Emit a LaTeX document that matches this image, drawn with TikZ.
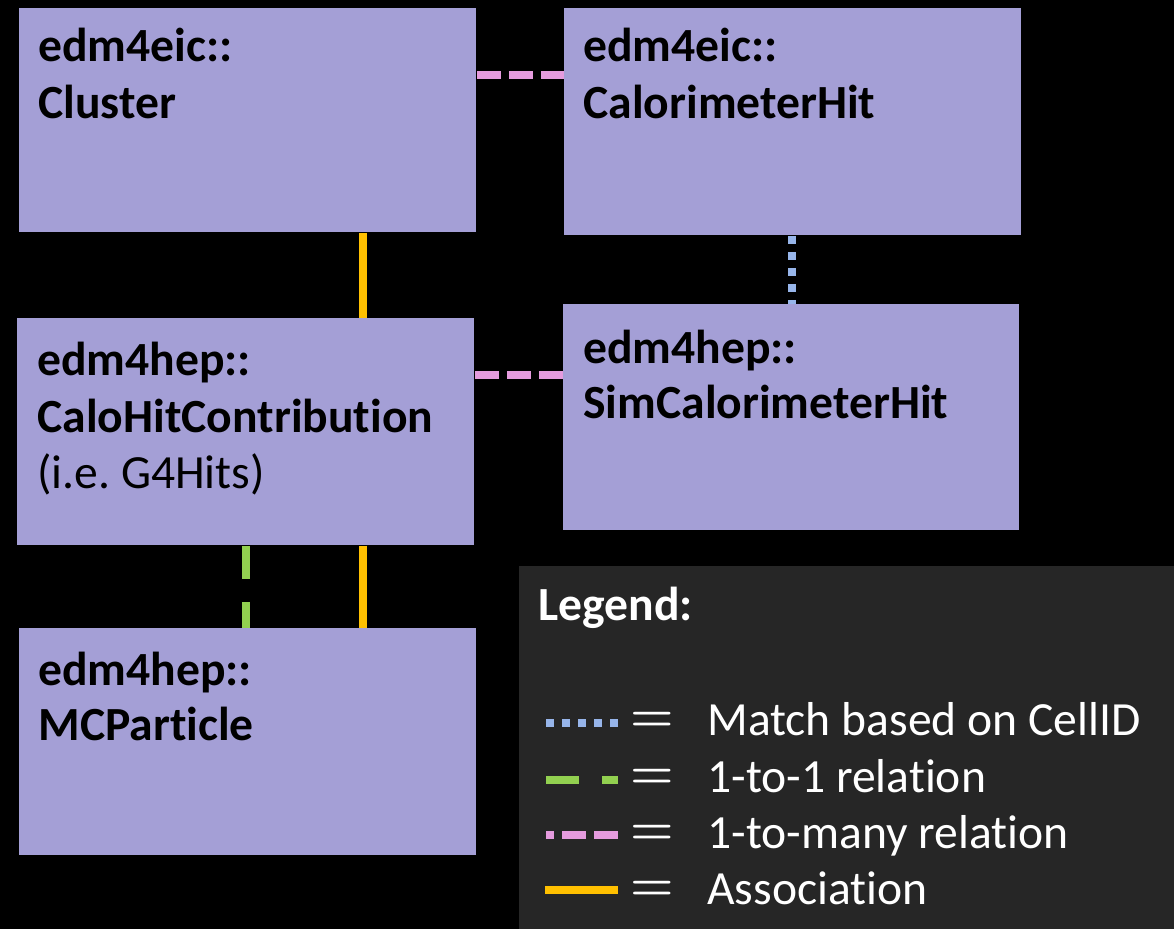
\documentclass[tikz,border=0pt]{standalone}
\usepackage{fontspec}
\setmainfont{Carlito}[Ligatures=NoCommon]
\definecolor{boxfill}{HTML}{A49FD6}
\definecolor{legendbg}{HTML}{262626}
\definecolor{relpink}{HTML}{E59BDE}
\definecolor{cellblue}{HTML}{97B5EA}
\definecolor{onegreen}{HTML}{92D050}
\definecolor{assocgold}{HTML}{FFC000}
\tikzset{
  box/.style={fill=boxfill, draw=none, anchor=north west, inner sep=0pt},
  boxtext/.style={anchor=base west, inner sep=0pt, font=\fontsize{23.8}{28.5}\selectfont, text=black},
  legtext/.style={anchor=base west, inner sep=0pt, font=\fontsize{23.8}{28.5}\selectfont, text=white},
  eqsign/.style={inner sep=0pt, text=white, font=\fontsize{25}{25}\selectfont\boldmath},
  manyrel/.style={draw=relpink, line width=4pt, dash pattern=on 12pt off 4pt},
  cellmatch/.style={draw=cellblue, line width=4pt, dash pattern=on 4pt off 4pt},
  onerel/.style={draw=onegreen, line width=4pt, dash pattern=on 16.5pt off 11.5pt},
  assoc/.style={draw=assocgold, line width=4pt},
}
\begin{document}
\begin{tikzpicture}[x=0.5pt, y=-0.5pt]
  % canvas
  \fill[black] (0,0) rectangle (1174,929);
  \useasboundingbox (0,0) rectangle (1174,929);

  % data-type boxes
  \node[box, minimum width=228.5pt, minimum height=112pt] (cluster) at (19,8) {};
  \node[box, minimum width=228.5pt, minimum height=113.5pt] (calohit) at (564,8) {};
  \node[box, minimum width=228.5pt, minimum height=113.5pt] (contrib) at (17,318) {};
  \node[box, minimum width=228pt, minimum height=113pt] (simhit) at (563,304) {};
  \node[box, minimum width=228.5pt, minimum height=113.5pt] (mcpart) at (19,628) {};

  % box titles
  \node[boxtext] (cluster-a) at (38,62) {\bfseries edm4eic::};
  \node[boxtext] (cluster-b) at (38,119) {\bfseries Cluster};
  \node[boxtext] (calohit-a) at (583,62) {\bfseries edm4eic::};
  \node[boxtext] (calohit-b) at (583,119) {\bfseries CalorimeterHit};
  \node[boxtext] (contrib-a) at (37,376) {\bfseries edm4hep::};
  \node[boxtext] (contrib-b) at (37,433) {\bfseries CaloHitContribution};
  \node[boxtext] (contrib-c) at (37,489) {(i.e.\ G4Hits)};
  \node[boxtext] (simhit-a) at (583,364) {\bfseries edm4hep::};
  \node[boxtext] (simhit-b) at (583,419) {\bfseries SimCalorimeterHit};
  \node[boxtext] (mcpart-a) at (38,686) {\bfseries edm4hep::};
  \node[boxtext] (mcpart-b) at (38,741) {\bfseries MCParticle};

  % relations between the boxes
  \draw[manyrel] (cluster.east |- 0,75) -- (calohit.west |- 0,75);
  \draw[manyrel] (contrib.east |- 0,375) -- (simhit.west |- 0,375);
  \draw[cellmatch] (calohit.south -| 792,0) -- (simhit.north -| 792,0);
  \draw[assoc] (cluster.south -| 363,0) -- (contrib.north -| 363,0);
  \draw[assoc] (contrib.south -| 363,0) -- (mcpart.north -| 363,0);
  \draw[onerel] (contrib.south -| 246,0) -- (mcpart.north -| 246,0);

  % legend panel
  \node[fill=legendbg, anchor=north west, inner sep=0pt, minimum width=327.5pt, minimum height=181.5pt] (legend) at (519,566) {};
  \node[legtext] (legend-title) at (538,621) {\bfseries Legend:};

  \coordinate (l1a) at (546,723); \coordinate (l1b) at (618,723);
  \coordinate (l2a) at (546,780); \coordinate (l2b) at (618,780);
  \coordinate (l3a) at (546,835); \coordinate (l3b) at (618,835);
  \coordinate (l4a) at (545,890); \coordinate (l4b) at (618,890);
  \draw[cellmatch] (l1a) -- (l1b);
  \draw[onerel] (l2a) -- (l2b);
  \draw[manyrel, dash phase=8pt] (l3a) -- (l3b);
  \draw[assoc] (l4a) -- (l4b);

  \node[eqsign] (eq1) at (652,722) {$=$};
  \node[eqsign] (eq2) at (652,779) {$=$};
  \node[eqsign] (eq3) at (652,835) {$=$};
  \node[eqsign] (eq4) at (652,891) {$=$};

  \node[legtext] (leg1) at (707,736) {Match based on CellID};
  \node[legtext] (leg2) at (707,793) {1-to-1 relation};
  \node[legtext] (leg3) at (707,849) {1-to-many relation};
  \node[legtext] (leg4) at (707,905) {Association};
\end{tikzpicture}
\end{document}
